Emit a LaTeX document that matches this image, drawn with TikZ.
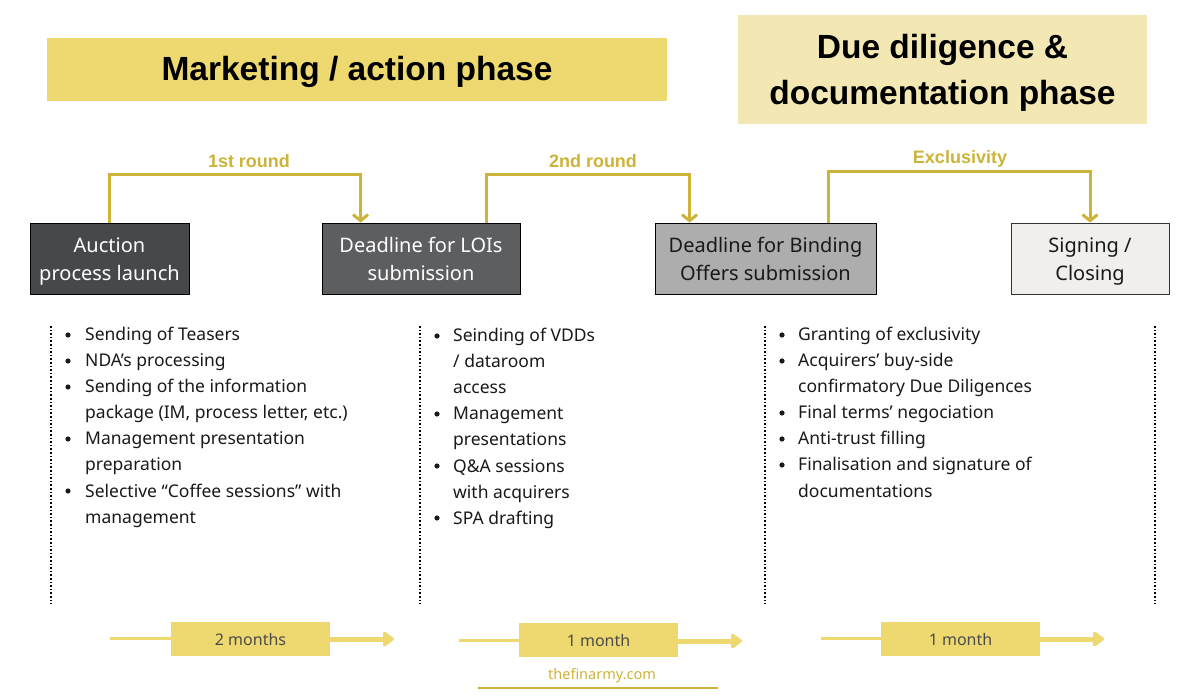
\documentclass[tikz,border=0pt]{standalone}
\usepackage{fontspec}
\setmainfont{Noto Sans}
\newfontfamily\heavyfont{Liberation Sans}
\usetikzlibrary{arrows.meta,calc}
\definecolor{hdrA}{HTML}{EDD96F}
\definecolor{hdrB}{HTML}{F3E8B4}
\definecolor{gold}{HTML}{CCB43A}
\definecolor{barY}{HTML}{EED971}
\definecolor{boxA}{HTML}{45494C}
\definecolor{boxB}{HTML}{5D5E60}
\definecolor{boxC}{HTML}{ADADAD}
\definecolor{boxD}{HTML}{F0EFEB}
\definecolor{txtD}{HTML}{4A4A4A}
\tikzset{
  x=1pt,y=-1pt,
  hdr/.style={inner sep=0pt,font=\heavyfont\bfseries\fontsize{33.5}{46}\selectfont,align=center,text=black},
  stage/.style={draw=black,line width=0.9pt,inner sep=0pt,minimum height=71pt,align=center,font=\fontsize{20}{28}\selectfont},
  conn/.style={draw=gold,line width=3pt},
  connarrow/.style={conn,-{Straight Barb[length=6pt,width=15pt,line width=3pt]}},
  clabel/.style={text=gold,font=\heavyfont\bfseries\fontsize{18}{20}\selectfont,inner sep=0pt},
  body/.style={font=\fontsize{17.5}{26}\selectfont,inner sep=0pt,anchor=base west,text=black!90},
  sep/.style={draw=black,line width=1.6pt,dotted},
  durbox/.style={fill=barY,inner sep=0pt,minimum width=159pt,minimum height=34pt,font=\fontsize{16}{18}\selectfont,text=txtD},
  durin/.style={draw=barY,line width=3pt},
  durout/.style={draw=barY,line width=5pt,-{Triangle[round,length=12pt,width=17pt]}}
}
\begin{document}
\begin{tikzpicture}
\useasboundingbox[fill=white] (0,0) rectangle (1200,700);

% headers
\fill[hdrA] (47,38) rectangle (667,101);
\fill[hdrB] (738,15) rectangle (1147,124);
\node[hdr] (h1) at (357,71.5) {Marketing / action phase};
\node[hdr] (h2) at (942.5,73) {Due diligence \&\\documentation phase};

% stage boxes
\node[stage,fill=boxA,text=white,minimum width=159pt] (A) at (109.5,258.5) {};
\node[stage,fill=boxB,text=white,minimum width=198pt] (B) at (421,258.5) {};
\node[stage,fill=boxC,text=black!90,minimum width=221pt] (C) at (765.5,258.5) {};
\node[stage,fill=boxD,draw=black!80,text=black!90,minimum width=158pt] (D) at (1090,258.5) {};
\node[stage,draw=none,text=white] (At) at ($(A)+(0,3)$) {Auction\\process launch};
\node[stage,draw=none,text=white] (Bt) at ($(B)+(0,0.5)$) {Deadline for LOIs\\submission};
\node[stage,draw=none,text=black!90] (Ct) at ($(C)+(0,0.5)$) {Deadline for Binding\\Offers submission};
\node[stage,draw=none,text=black!90] (Dt) at ($(D)+(0,3)$) {Signing /\\Closing};

% connectors
\coordinate (bIn) at ($(B.north west)+(39,0)$);
\coordinate (bOut) at ($(B.north east)+(-34,0)$);
\coordinate (cIn) at ($(C.north west)+(35,0)$);
\coordinate (cOut) at ($(C.north east)+(-48,0)$);
\draw[connarrow] (A.north) -- (A.north |- 0,175) -| (bIn);
\draw[connarrow] (bOut) -- (bOut |- 0,175) -| (cIn);
\draw[connarrow] (cOut) -- (cOut |- 0,171.5) -| (D.north);
\node[clabel] (l1) at (249,161) {1st round};
\node[clabel] (l2) at (593,161) {2nd round};
\node[clabel] (l3) at (960,159) {Exclusivity};

% dotted separators
\foreach \xx [count=\k] in {51,420,765,1155}{
  \coordinate (st\k) at (\xx,326);
  \coordinate (sb\k) at (\xx,604);
  \draw[sep] (st\k) -- (sb\k);
}

% column 1
\foreach \t [count=\i] in {Sending of Teasers,NDA’s processing,Sending of the information,{package (IM, process letter, etc.)},Management presentation,preparation,Selective “Coffee sessions” with,management}{
  \node[body] (ca\i) at (85,{341+26*(\i-1)}) {\t};
}
\foreach \i in {1,2,3,5,7}{ \fill[black!90] (68,{335+26*(\i-1)}) circle (2.6); }

% column 2
\foreach \t [count=\i] in {Seinding of VDDs,/ dataroom,access,Management,presentations,Q\&A sessions,with acquirers,SPA drafting}{
  \node[body] (cb\i) at (453,{342+26*(\i-1)}) {\t};
}
\foreach \i in {1,4,6,8}{ \fill[black!90] (437,{336+26*(\i-1)}) circle (2.6); }

% column 3
\foreach \t [count=\i] in {Granting of exclusivity,Acquirers’ buy-side,confirmatory Due Diligences,Final terms’ negociation,Anti-trust filling,Finalisation and signature of,documentations}{
  \node[body] (cc\i) at (798,{341+26*(\i-1)}) {\t};
}
\foreach \i in {1,2,4,5,6}{ \fill[black!90] (782,{335+26*(\i-1)}) circle (2.6); }

% duration bars
\node[durbox] (d1) at (250.5,639) {2 months};
\node[durbox] (d2) at (598.5,640) {1 month};
\node[durbox] (d3) at (960.5,639) {1 month};
\coordinate (d1s) at (110,638); \coordinate (d1e) at (394,639);
\coordinate (d2s) at (459,640); \coordinate (d2e) at (742,641);
\coordinate (d3s) at (821,638); \coordinate (d3e) at (1104,639);
\draw[durin] (d1s) -- (d1.west |- d1s);
\draw[durout] (d1.east |- d1e) -- (d1e);
\draw[durin] (d2s) -- (d2.west |- d2s);
\draw[durout] (d2.east |- d2e) -- (d2e);
\draw[durin] (d3s) -- (d3.west |- d3s);
\draw[durout] (d3.east |- d3e) -- (d3e);

% footer
\node[text=gold,font=\fontsize{14.5}{16}\selectfont,inner sep=0pt] (ft) at (602,676) {thefinarmy.com};
\coordinate (fl) at (478,688); \coordinate (fr) at (718,688);
\draw[gold,line width=2.5pt] (fl) -- (fr);
\end{tikzpicture}
\end{document}
